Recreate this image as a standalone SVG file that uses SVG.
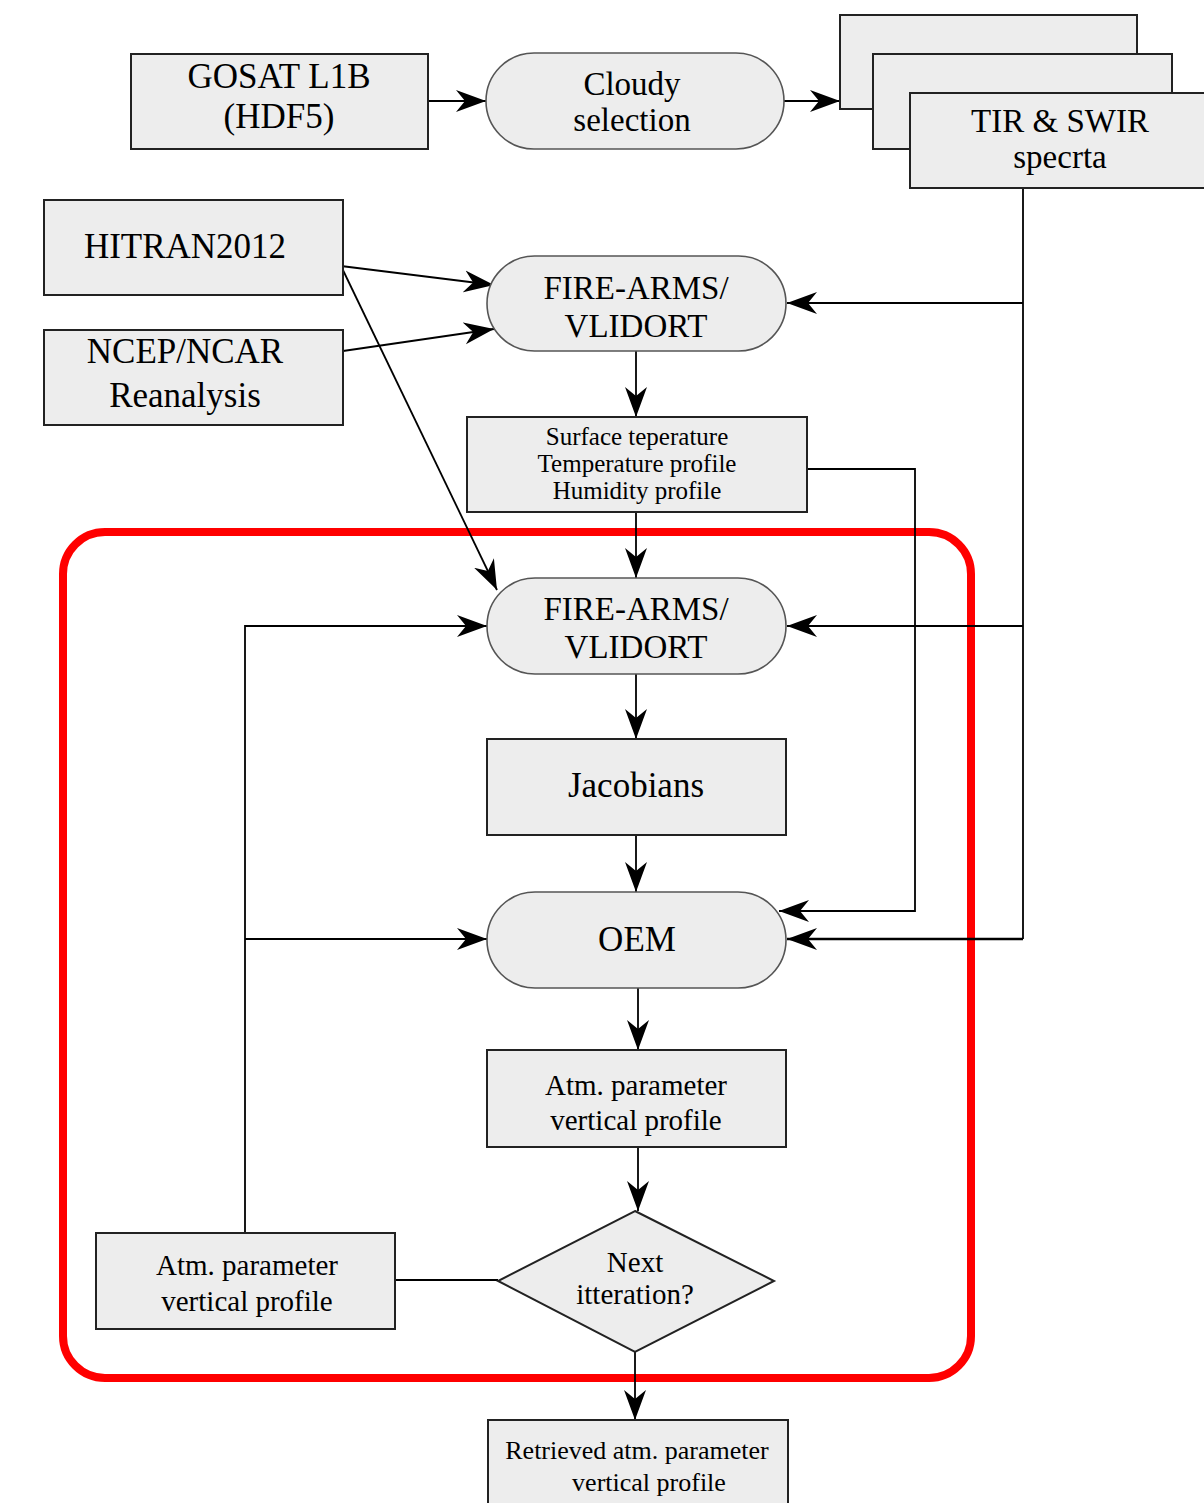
<svg xmlns="http://www.w3.org/2000/svg" width="1204" height="1503" viewBox="0 0 1204 1503">
<style>
.box{fill:#ededed;stroke:#222;stroke-width:2}
.stad{fill:#ededed;stroke:#555;stroke-width:1.6}
.t{font-family:"Liberation Serif","Times New Roman",serif;fill:#000;text-anchor:middle}
.L{font-size:35px}
.L2{font-size:33px}
.S{font-size:25px}
.M{font-size:29px}
.c{fill:none;stroke:#000;stroke-width:1.8}
</style>
<defs>
<marker id="ah" markerUnits="userSpaceOnUse" markerWidth="32" markerHeight="24" viewBox="0 0 32 24" refX="30" refY="12" orient="auto">
<path d="M0,1 L30,12 L0,23 L9,12 z" fill="#000"/>
</marker>
</defs>
<rect x="63" y="532" width="908" height="846" rx="42" fill="none" stroke="#ff0000" stroke-width="8"/>
<g id="connectors">
<line class="c" x1="428" y1="101" x2="486" y2="101" marker-end="url(#ah)"/>
<line class="c" x1="784" y1="101" x2="840" y2="101" marker-end="url(#ah)"/>
<line class="c" x1="341" y1="266" x2="494" y2="285" marker-end="url(#ah)"/>
<line class="c" x1="343" y1="351" x2="494" y2="329" marker-end="url(#ah)"/>
<line class="c" x1="341" y1="266" x2="497" y2="590" marker-end="url(#ah)"/>
<polyline class="c" points="1023,188 1023,939"/>
<line class="c" x1="1023" y1="303" x2="787" y2="303" marker-end="url(#ah)"/>
<line class="c" x1="1023" y1="626" x2="787" y2="626" marker-end="url(#ah)"/>
<line class="c" x1="1023" y1="939" x2="787" y2="939" marker-end="url(#ah)" style="stroke-width:2.4"/>
<line class="c" x1="636" y1="351" x2="636" y2="417" marker-end="url(#ah)"/>
<polyline class="c" points="807,469 915,469 915,911 779,911" marker-end="url(#ah)"/>
<line class="c" x1="636" y1="512" x2="636" y2="578" marker-end="url(#ah)"/>
<polyline class="c" points="245,1233 245,626 487,626" marker-end="url(#ah)"/>
<line class="c" x1="245" y1="939" x2="487" y2="939" marker-end="url(#ah)"/>
<line class="c" x1="636" y1="674" x2="636" y2="739" marker-end="url(#ah)"/>
<line class="c" x1="636" y1="835" x2="636" y2="892" marker-end="url(#ah)"/>
<line class="c" x1="638" y1="988" x2="638" y2="1050" marker-end="url(#ah)"/>
<line class="c" x1="638" y1="1147" x2="638" y2="1211" marker-end="url(#ah)"/>
<line class="c" x1="498" y1="1280" x2="395" y2="1280"/>
<line class="c" x1="635" y1="1352" x2="635" y2="1420" marker-end="url(#ah)"/>
</g>
<g id="gosat"><rect class="box" x="131" y="54" width="297" height="95"/>
<text class="t L" x="279" y="88">GOSAT L1B</text><text class="t L" x="279" y="128">(HDF5)</text></g>
<g id="cloudy"><rect class="stad" x="486" y="53" width="298" height="96" rx="48"/>
<text class="t L2" x="632" y="95">Cloudy</text><text class="t L2" x="632" y="131">selection</text></g>
<g id="spectra">
<rect class="box" x="840" y="15" width="297" height="94"/>
<rect class="box" x="873" y="54" width="299" height="95"/>
<rect class="box" x="910" y="93" width="300" height="95"/>
<text class="t L2" x="1060" y="132">TIR &amp; SWIR</text><text class="t L2" x="1060" y="168">specrta</text></g>
<g id="hitran"><rect class="box" x="44" y="200" width="299" height="95"/>
<text class="t L" x="185" y="258">HITRAN2012</text></g>
<g id="ncep"><rect class="box" x="44" y="330" width="299" height="95"/>
<text class="t L" x="185" y="363">NCEP/NCAR</text><text class="t L" x="185" y="407">Reanalysis</text></g>
<g id="fire1"><rect class="stad" x="487" y="256" width="299" height="95" rx="47.5"/>
<text class="t L2" x="636" y="299">FIRE-ARMS/</text><text class="t L2" x="636" y="337">VLIDORT</text></g>
<g id="surface"><rect class="box" x="467" y="417" width="340" height="95"/>
<text class="t S" x="637" y="445">Surface teperature</text>
<text class="t S" x="637" y="472">Temperature profile</text>
<text class="t S" x="637" y="499">Humidity profile</text></g>
<g id="fire2"><rect class="stad" x="487" y="578" width="299" height="96" rx="48"/>
<text class="t L2" x="636" y="620">FIRE-ARMS/</text><text class="t L2" x="636" y="658">VLIDORT</text></g>
<g id="jacobians"><rect class="box" x="487" y="739" width="299" height="96"/>
<text class="t L" x="636" y="797">Jacobians</text></g>
<g id="oem"><rect class="stad" x="487" y="892" width="299" height="96" rx="48"/>
<text class="t L" x="637" y="951">OEM</text></g>
<g id="atm"><rect class="box" x="487" y="1050" width="299" height="97"/>
<text class="t M" x="636" y="1095">Atm. parameter</text><text class="t M" x="636" y="1130">vertical profile</text></g>
<g id="next"><polygon class="box" points="635,1211 774,1281 635,1352 498,1281"/>
<text class="t M" x="635" y="1272">Next</text><text class="t M" x="635" y="1304">itteration?</text></g>
<g id="atm2"><rect class="box" x="96" y="1233" width="299" height="96"/>
<text class="t M" x="247" y="1275">Atm. parameter</text><text class="t M" x="247" y="1311">vertical profile</text></g>
<g id="retrieved"><rect class="box" x="488" y="1420" width="300" height="90"/>
<text class="t" style="font-size:26px" x="637" y="1459">Retrieved atm. parameter</text>
<text class="t" style="font-size:26px" x="649" y="1491">vertical profile</text></g>
</svg>
